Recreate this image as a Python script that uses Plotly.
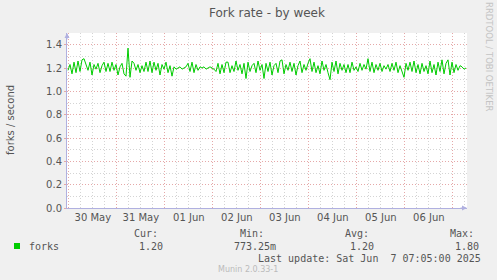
import pandas as pd
import plotly.graph_objects as go

title = "Fork rate - by week"
y_label = "forks / second"
series_name = "forks"
start_time = "2025-05-29 23:35"
range_start = "2025-05-29 23:05"
range_end = "2025-06-07 07:05"
forks = [
    1.18,1.23,1.15,1.25,1.16,1.26,1.17,1.27,1.28,1.22,1.18,1.25,1.14,1.23,1.19,1.24,1.16,1.22,1.25,1.17,
    1.24,1.17,1.25,1.18,1.23,1.14,1.21,1.24,1.15,1.13,1.37,1.12,1.26,1.24,1.18,1.23,1.16,1.22,1.17,1.25,
    1.17,1.26,1.16,1.25,1.18,1.24,1.14,1.23,1.19,1.25,1.16,1.22,1.13,1.21,1.19,1.20,1.21,1.19,1.20,1.21,
    1.24,1.17,1.25,1.16,1.23,1.18,1.21,1.20,1.21,1.19,1.20,1.21,1.20,1.19,1.17,1.24,1.15,1.23,1.16,1.25,
    1.25,1.16,1.22,1.17,1.26,1.18,1.23,1.15,1.24,1.11,1.25,1.17,1.22,1.24,1.16,1.26,1.18,1.23,1.11,1.24,
    1.17,1.25,1.14,1.22,1.24,1.16,1.26,1.27,1.15,1.23,1.18,1.25,1.17,1.24,1.14,1.22,1.26,1.16,1.23,1.18,
    1.24,1.28,1.17,1.25,1.16,1.22,1.15,1.26,1.18,1.23,1.16,1.10,1.25,1.17,1.26,1.15,1.24,1.18,1.23,1.16,
    1.23,1.16,1.25,1.18,1.21,1.17,1.24,1.18,1.23,1.19,1.28,1.17,1.25,1.16,1.23,1.18,1.24,1.17,1.22,1.19,
    1.23,1.17,1.24,1.18,1.25,1.16,1.22,1.17,1.12,1.24,1.18,1.25,1.17,1.26,1.16,1.23,1.15,1.24,1.17,1.22,
    1.15,1.26,1.16,1.23,1.14,1.25,1.17,1.27,1.15,1.24,1.27,1.14,1.25,1.16,1.23,1.18,1.22,1.21,1.19,1.20,
]
stat_labels = ["Cur:", "Min:", "Avg:", "Max:"]
stat_values = ["1.20", "773.25m", "1.20", "1.80"]
last_update = "Last update: Sat Jun\u00a0\u00a07 07:05:00 2025"
munin_version = "Munin 2.0.33-1"
rrd_credit = "RRDTOOL / TOBI OETIKER"

times = pd.date_range(start_time, periods=len(forks), freq="h")

W, H = 497, 280
L, R, T, B = 67, 467, 33, 208

def px(x):
    return (x - L) / (R - L)

def py(y):
    return (B - y) / (B - T)

GREEN = "#00cc00"
TXT = "#555555"
MONO = "DejaVu Sans Mono"
SANS = "DejaVu Sans"
MGRID = "#e5a8a8"
GRID = "#d4d4d4"
AXIS = "#b0b0e0"

fig = go.Figure()
fig.add_trace(go.Scatter(x=times, y=forks, mode="lines",
                         line=dict(color=GREEN, width=1), name=series_name,
                         showlegend=False, hoverinfo="skip"))

fig.update_layout(
    width=W, height=H,
    margin=dict(l=L, r=W - R, t=T, b=H - B),
    paper_bgcolor="#f0f0f0", plot_bgcolor="#ffffff",
    font=dict(family=SANS, size=10, color=TXT),
    title=dict(text=title, x=0.5, xref="paper", xanchor="center",
               y=1 - 13 / H, yanchor="middle",
               font=dict(family=SANS, size=12, color=TXT)),
)
fig.update_xaxes(
    type="date", range=[range_start, range_end],
    dtick=86400000, tick0="2025-05-30", tickformat="%d %b",
    ticklabelmode="period", ticks="", showline=True, linecolor=AXIS, linewidth=1,
    showgrid=True, gridcolor=MGRID, griddash="1px,2px", gridwidth=1,
    minor=dict(dtick=21600000, showgrid=True, gridcolor=GRID, griddash="1px,2px"),
    tickfont=dict(family=SANS, size=10, color=TXT), zeroline=False,
)
fig.update_yaxes(
    range=[0, 1.5], dtick=0.2, tick0=0, tickformat=".1f",
    showline=True, linecolor=AXIS, linewidth=1,
    showgrid=True, gridcolor=MGRID, griddash="1px,2px", gridwidth=1,
    minor=dict(dtick=0.1, showgrid=True, gridcolor=GRID, griddash="1px,2px"),
    ticks="outside", ticklen=2, tickcolor=MGRID, zeroline=False,
    tickfont=dict(family=SANS, size=10, color=TXT),
)

ann = []
ann.append(dict(text=y_label, x=px(10), y=py(120), xref="paper", yref="paper",
                showarrow=False, textangle=-90, xanchor="center", yanchor="middle",
                font=dict(family=SANS, size=10, color=TXT)))
ann.append(dict(text=rrd_credit, x=px(489), y=py(57), xref="paper", yref="paper",
                showarrow=False, textangle=90, xanchor="center", yanchor="middle",
                font=dict(family=SANS, size=8.5, color="#c4c4c4")))
# axis arrows
ann.append(dict(text="", x=0, y=1, xref="paper", yref="paper", ax=0, ay=8,
                showarrow=True, arrowhead=2, arrowsize=1, arrowwidth=1, arrowcolor=AXIS))
ann.append(dict(text="", x=1, y=0, xref="paper", yref="paper", ax=-8, ay=0,
                showarrow=True, arrowhead=2, arrowsize=1, arrowwidth=1, arrowcolor=AXIS))

ann.append(dict(text=series_name, x=px(27), y=py(246), xref="paper", yref="paper",
                showarrow=False, xanchor="left", yanchor="middle",
                font=dict(family=MONO, size=10, color=TXT)))
label_x = [132, 238, 343, 448]
value_x = [137, 232, 348, 453]
for lab, lx in zip(stat_labels, label_x):
    ann.append(dict(text=lab, x=px(lx), y=py(233), xref="paper", yref="paper",
                    showarrow=False, xanchor="left", yanchor="middle",
                    font=dict(family=MONO, size=10, color=TXT)))
for val, vx in zip(stat_values, value_x):
    ann.append(dict(text=val, x=px(vx), y=py(246),
                    xref="paper", yref="paper", showarrow=False, xanchor="left",
                    yanchor="middle", font=dict(family=MONO, size=10, color=TXT)))
ann.append(dict(text=last_update, x=px(483), y=py(258), xref="paper", yref="paper",
                showarrow=False, xanchor="right", yanchor="middle",
                font=dict(family=MONO, size=10, color=TXT)))
ann.append(dict(text=munin_version, x=px(248), y=py(269), xref="paper", yref="paper",
                showarrow=False, xanchor="center", yanchor="middle",
                font=dict(family=SANS, size=8, color="#bbbbbb")))
fig.update_layout(annotations=ann)

fig.add_shape(type="rect", xref="paper", yref="paper",
              x0=px(14), x1=px(20), y0=py(249), y1=py(243),
              fillcolor=GREEN, line=dict(width=0))

fig.write_html("out.html")
